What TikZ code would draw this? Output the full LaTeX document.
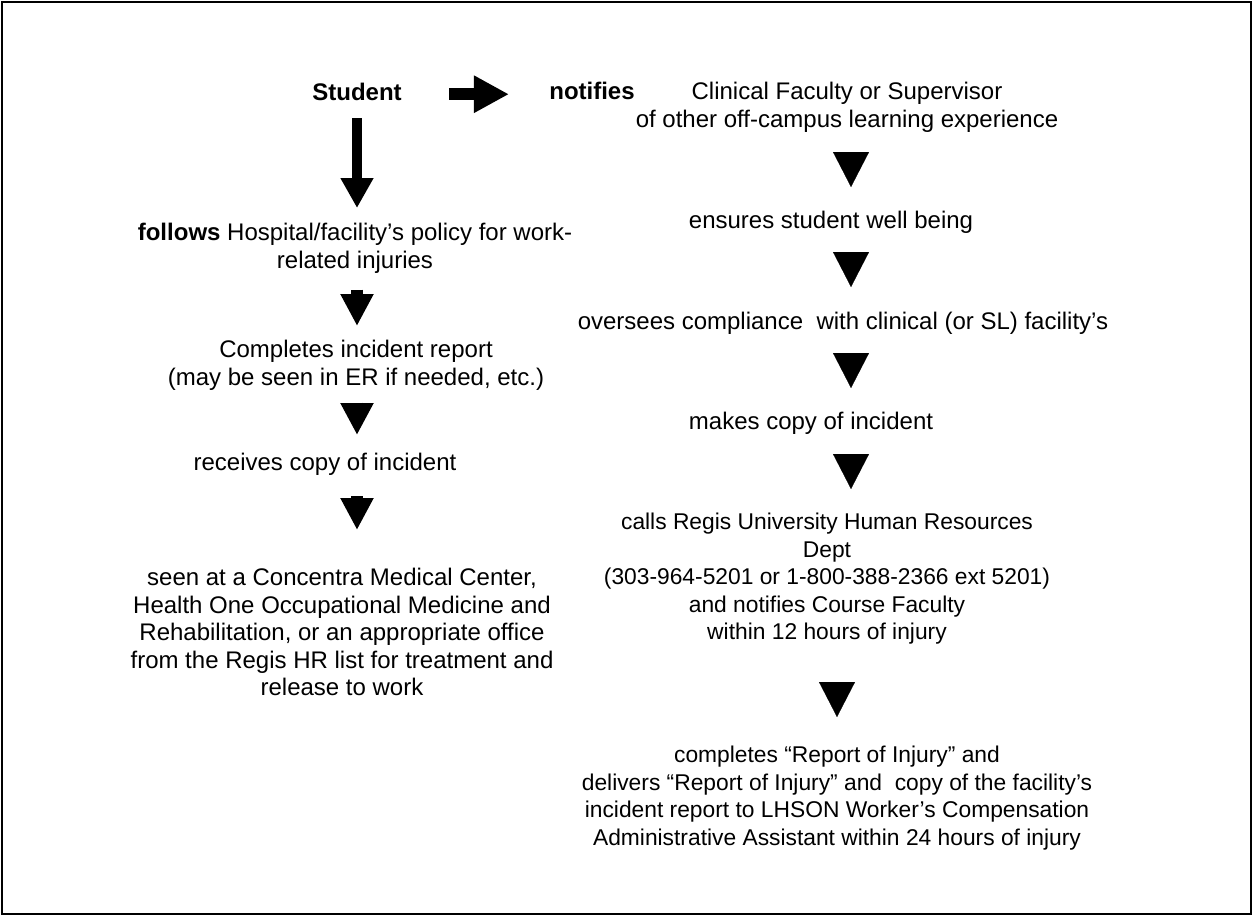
\documentclass[tikz,border=0pt]{standalone}
\usepackage{fontspec}
\setmainfont{Liberation Sans}
\usetikzlibrary{arrows.meta}
\tikzset{
  every picture/.style={font=\fontsize{12pt}{13.75pt}\selectfont},
  txt/.style={anchor=north, inner sep=0pt, align=center},
  small/.style={font=\fontsize{11.4pt}{13.75pt}\selectfont},
  bigright/.style={line width=6pt, -{Triangle[length=17.5pt, width=17.5pt]}},
  bigdown/.style={line width=4.75pt, -{Triangle[length=15pt, width=15.5pt]}},
  stub/.style={line width=6pt, -{Triangle[length=16pt, width=15.5pt]}},
  head/.style={line width=0.1pt, -{Triangle[length=17.5pt, width=18pt]}},
}
\begin{document}
\begin{tikzpicture}[x=0.5pt, y=-0.5pt]
  \useasboundingbox (0,0) rectangle (1252,916);
  \draw[line width=1pt] (1.5,1.5) rectangle (1250.5,914);
  % top row
  \node[txt] (student) at (357,83) {\textbf{Student}};
  \node[txt] (notifies) at (592,82) {\textbf{notifies}};
  \node[txt] (clinical) at (847,82) {Clinical Faculty or Supervisor\\of other off-campus learning experience};
  % student's own steps
  \node[txt] (follows) at (355,223) {\textbf{follows} Hospital/facility’s policy for work-\\related injuries};
  \node[txt] (completes) at (356,340) {Completes incident report\\(may be seen in ER if needed, etc.)};
  \node[txt] (receives) at (325,453) {receives copy of incident};
  \node[txt] (seen) at (342,568) {seen at a Concentra Medical Center,\\Health One Occupational Medicine and\\Rehabilitation, or an appropriate office\\from the Regis HR list for treatment and\\release to work};
  % the faculty's steps
  \coordinate (rcol) at (851,0);
  \node[txt] (ensures) at (831,211) {ensures student well being};
  \node[txt] (oversees) at (843,312) {oversees compliance~ with clinical (or SL) facility’s};
  \node[txt] (makes) at (811,412) {makes copy of incident};
  \node[txt, small] (calls) at (827,513) {calls Regis University Human Resources\\Dept\\(303-964-5201 or 1-800-388-2366 ext 5201)\\and notifies Course Faculty\\within 12 hours of injury};
  \node[txt, small] (report) at (837,746) {completes “Report of Injury” and\\delivers “Report of Injury” and~ copy of the facility’s\\incident report to LHSON Worker’s Compensation\\Administrative Assistant within 24 hours of injury};
  % arrows
  \draw[bigright, shorten <=23.5pt, shorten >=20pt] ([yshift=-1pt]student.east) -- ([yshift=-1pt]student.east -| notifies.west);
  \draw[bigdown, shorten <=8.5pt, shorten >=7.5pt] (student.south) -- (student.south |- follows.north);
  \draw[stub, shorten <=8pt, shorten >=7pt] (student.south |- follows.south) -- (student.south |- completes.north);
  \draw[stub, shorten <=6pt, shorten >=9pt] (student.south |- completes.south) -- (student.south |- receives.north);
  \draw[stub, shorten <=10pt, shorten >=19pt] (student.south |- receives.south) -- (student.south |- seen.north);
  \draw[head, shorten <=9.75pt, shorten >=12pt] (rcol |- clinical.south) -- (rcol |- ensures.north);
  \draw[head, shorten <=9.25pt, shorten >=12.5pt] (rcol |- ensures.south) -- (rcol |- oversees.north);
  \draw[head, shorten <=9.25pt, shorten >=12pt] (rcol |- oversees.south) -- (rcol |- makes.north);
  \draw[head, shorten <=9.75pt, shorten >=12pt] (rcol |- makes.south) -- (rcol |- calls.north);
  \draw[head, shorten <=18.75pt, shorten >=14.5pt] (report.north |- calls.south) -- (report.north);
\end{tikzpicture}
\end{document}
